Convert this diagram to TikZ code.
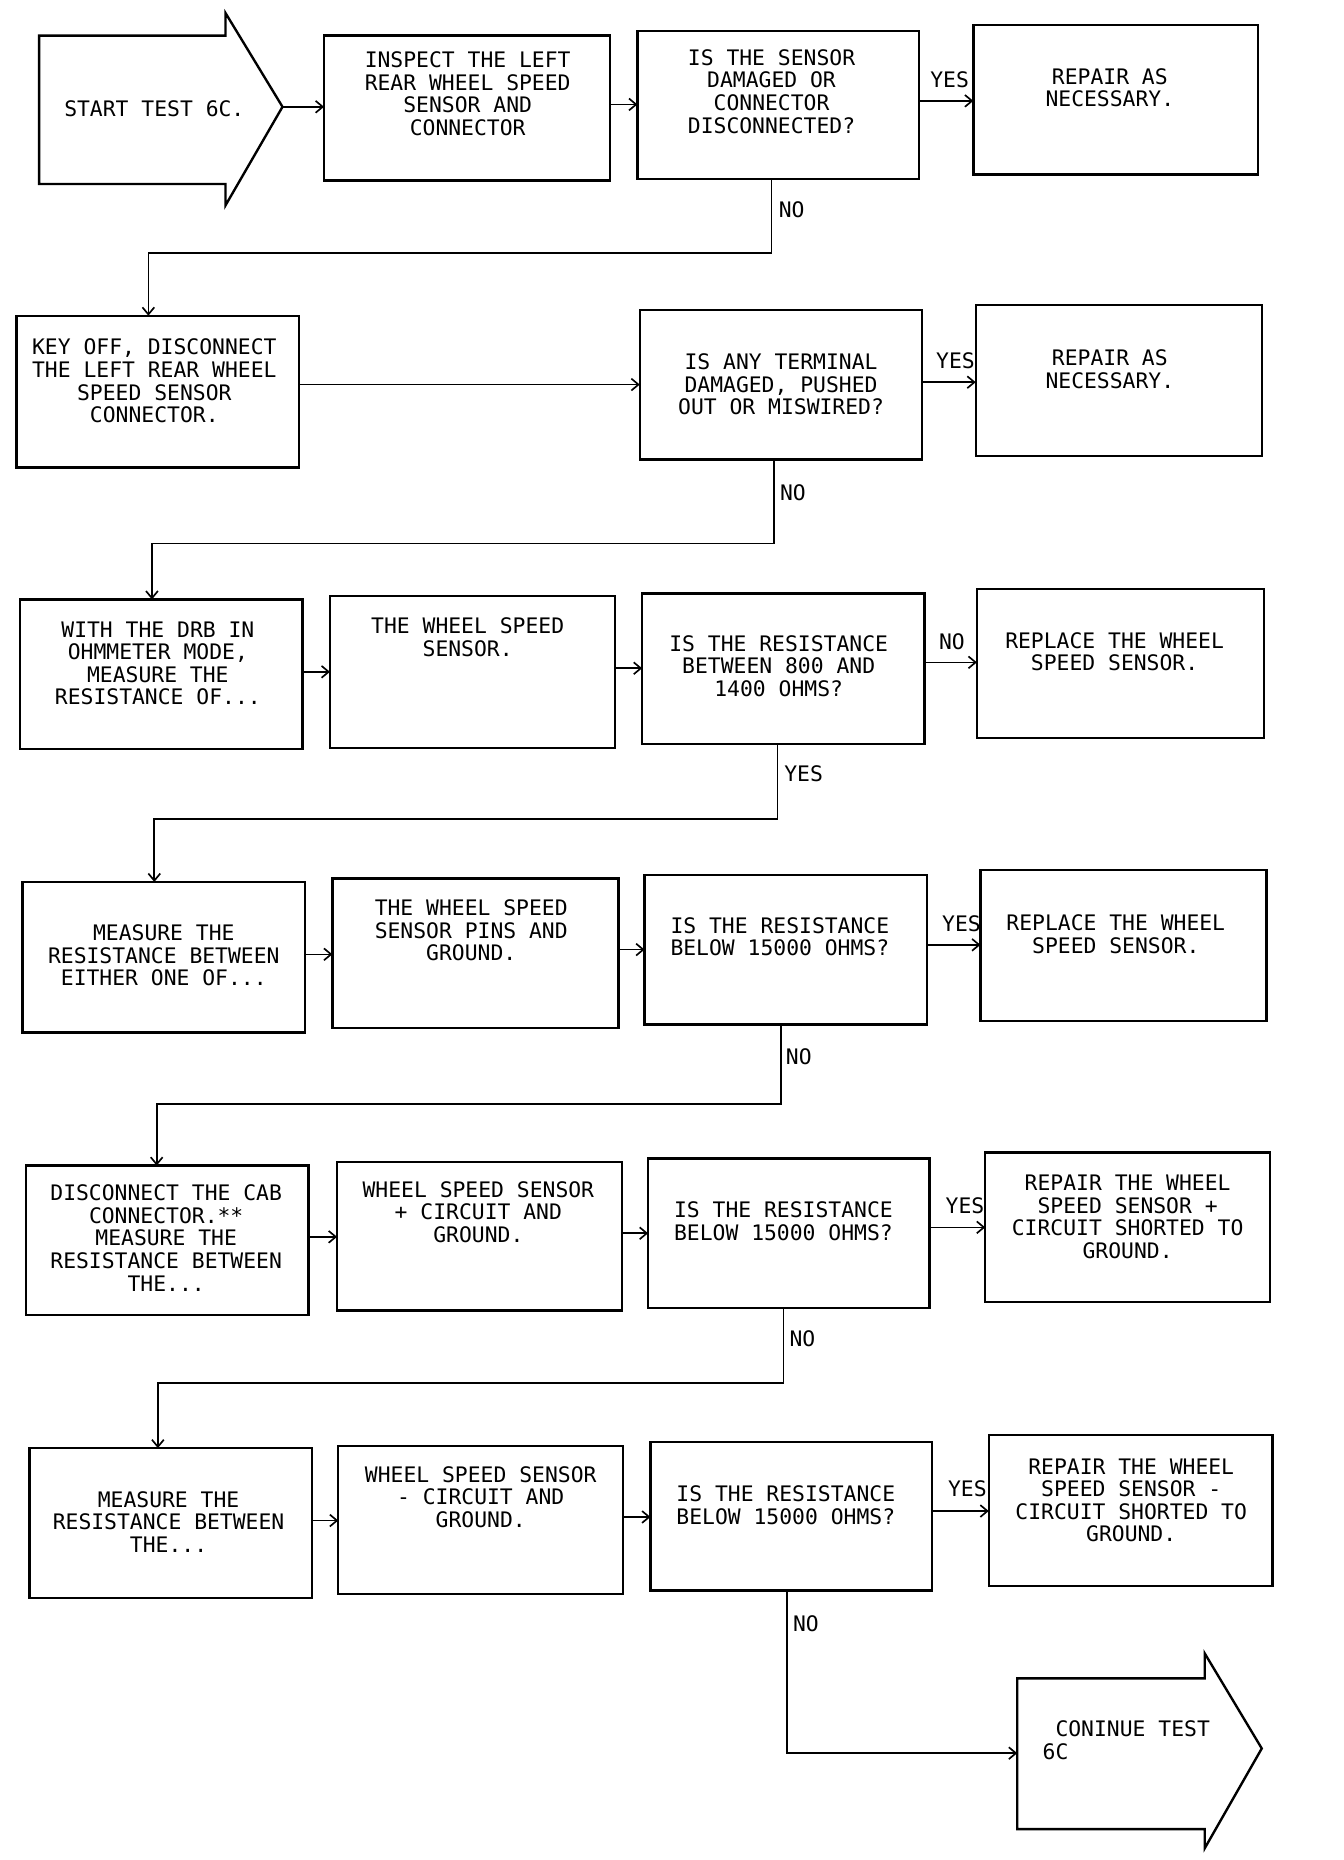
\documentclass[tikz,border=0pt]{standalone}
\usepackage{fontspec}
\newfontfamily\plotfont{DejaVu Sans Mono}
\usetikzlibrary{arrows.meta,fit}
\tikzset{
  box/.style={draw, line width=1pt, inner sep=0pt, outer sep=0pt},
  txt/.style={align=center, inner sep=0pt, font=\plotfont\fontsize{9}{9.5}\selectfont},
  lbl/.style={inner sep=0pt, font=\plotfont\fontsize{9}{9.5}\selectfont},
  arr/.style={line width=0.7pt, -{Straight Barb[length=3pt,width=5pt]}},
  bigarrow/.style={draw, line width=1pt, line join=miter}
}
\newcommand{\mybox}[5]{\node[box, fit={(#2,#3) (#4,#5)}] (#1) {};}
\begin{document}
\begin{tikzpicture}[x=0.5pt,y=-0.5pt]
\useasboundingbox (0,0) rectangle (1132,1567);
% start arrow
\draw[bigarrow] (33,30) -- (190,30) -- (190,11) -- (238,90) -- (190,173) -- (190,155) -- (33,155) -- cycle;
\coordinate (starttip) at (238,90);
\node[txt] (starttxt) at (130,92) {START TEST 6C.};
% row 1
\mybox{b1}{273}{30}{514}{152}
\node[txt] at (394,79) {INSPECT THE LEFT\\REAR WHEEL SPEED\\SENSOR AND\\CONNECTOR};
\mybox{q1}{537}{26}{774}{151}
\node[txt] at (650,77) {IS THE SENSOR\\DAMAGED OR\\CONNECTOR\\DISCONNECTED?};
\mybox{r1}{820}{21}{1060}{147}
\node[txt] at (935,74) {REPAIR AS\\NECESSARY.};
% row 2
\mybox{b2}{14}{266}{252}{394}
\node[txt] at (130,321) {KEY OFF, DISCONNECT\\THE LEFT REAR WHEEL\\SPEED SENSOR\\CONNECTOR.};
\mybox{q2}{539}{261}{777}{387}
\node[txt] at (658,324) {IS ANY TERMINAL\\DAMAGED, PUSHED\\OUT OR MISWIRED?};
\mybox{r2}{822}{257}{1063}{384}
\node[txt] at (935,311) {REPAIR AS\\NECESSARY.};
% row 3
\mybox{b3}{17}{505}{255}{631}
\node[txt] at (133,559) {WITH THE DRB IN\\OHMMETER MODE,\\MEASURE THE\\RESISTANCE OF...};
\mybox{b4}{278}{502}{518}{630}
\node[txt] at (394,537) {THE WHEEL SPEED\\SENSOR.};
\mybox{q3}{541}{500}{779}{627}
\node[txt] at (656,561) {IS THE RESISTANCE\\BETWEEN 800 AND\\1400 OHMS?};
\mybox{r3}{823}{496}{1065}{622}
\node[txt] at (939,549) {REPLACE THE WHEEL\\SPEED SENSOR.};
% row 4
\mybox{b5}{19}{743}{257}{870}
\node[txt] at (138,805) {MEASURE THE\\RESISTANCE BETWEEN\\EITHER ONE OF...};
\mybox{b6}{280}{740}{521}{866}
\node[txt] at (397,784) {THE WHEEL SPEED\\SENSOR PINS AND\\GROUND.};
\mybox{q4}{543}{737}{781}{863}
\node[txt] at (657,789) {IS THE RESISTANCE\\BELOW 15000 OHMS?};
\mybox{r4}{826}{733}{1067}{860}
\node[txt] at (940,787) {REPLACE THE WHEEL\\SPEED SENSOR.};
% row 5
\mybox{b7}{22}{982}{260}{1108}
\node[txt] at (140,1043) {DISCONNECT THE CAB\\CONNECTOR.**\\MEASURE THE\\RESISTANCE BETWEEN\\THE...};
\mybox{b8}{284}{979}{524}{1104}
\node[txt] at (403,1021) {WHEEL SPEED SENSOR\\+ CIRCUIT AND\\GROUND.};
\mybox{q5}{546}{976}{783}{1102}
\node[txt] at (660,1029) {IS THE RESISTANCE\\BELOW 15000 OHMS?};
\mybox{r5}{830}{971}{1070}{1097}
\node[txt] at (950,1025) {REPAIR THE WHEEL\\SPEED SENSOR +\\CIRCUIT SHORTED TO\\GROUND.};
% row 6
\mybox{b9}{25}{1220}{263}{1346}
\node[txt] at (142,1282) {MEASURE THE\\RESISTANCE BETWEEN\\THE...};
\mybox{b10}{285}{1218}{525}{1343}
\node[txt] at (405,1261) {WHEEL SPEED SENSOR\\- CIRCUIT AND\\GROUND.};
\mybox{q6}{548}{1215}{785}{1340}
\node[txt] at (662,1268) {IS THE RESISTANCE\\BELOW 15000 OHMS?};
\mybox{r6}{833}{1209}{1072}{1336}
\node[txt] at (953,1264) {REPAIR THE WHEEL\\SPEED SENSOR -\\CIRCUIT SHORTED TO\\GROUND.};
% end arrow
\draw[bigarrow] (857,1414) -- (1015,1414) -- (1015,1393) -- (1063,1473) -- (1015,1557) -- (1015,1541) -- (857,1541) -- cycle;
\coordinate (endleft) at (857,1477);
\node[txt, align=left, anchor=west] (endtxt) at (878,1466) {\hphantom{X}CONINUE TEST\\6C};
% connectors row 1
\draw[arr] (starttip) -- (b1.west |- starttip);
\draw[arr] (b1.east |- 0,88) -- (q1.west |- 0,88);
\draw[arr] (q1.east |- 0,85) -- (r1.west |- 0,85);
\node[lbl] at (800,67) {YES};
\draw[arr] (q1.south -| 650,0) -- (650,213) -- (125,213) -- (b2.north -| 125,0);
\node[lbl] at (667,177) {NO};
% row 2
\draw[arr] (b2.east |- 0,324) -- (q2.west |- 0,324);
\draw[arr] (q2.east |- 0,322) -- (r2.west |- 0,322);
\node[lbl] at (805,304) {YES};
\draw[arr] (q2.south -| 652,0) -- (652,458) -- (128,458) -- (b3.north -| 128,0);
\node[lbl] at (668,415) {NO};
% row 3
\draw[arr] (b3.east |- 0,566) -- (b4.west |- 0,566);
\draw[arr] (b4.east |- 0,563) -- (q3.west |- 0,563);
\draw[arr] (q3.east |- 0,558) -- (r3.west |- 0,558);
\node[lbl] at (802,541) {NO};
\draw[arr] (q3.south -| 655,0) -- (655,690) -- (130,690) -- (b5.north -| 130,0);
\node[lbl] at (677,652) {YES};
% row 4
\draw[arr] (b5.east |- 0,804) -- (b6.west |- 0,804);
\draw[arr] (b6.east |- 0,800) -- (q4.west |- 0,800);
\draw[arr] (q4.east |- 0,796) -- (r4.west |- 0,796);
\node[lbl] at (810,778) {YES};
\draw[arr] (q4.south -| 658,0) -- (658,930) -- (132,930) -- (b7.north -| 132,0);
\node[lbl] at (673,890) {NO};
% row 5
\draw[arr] (b7.east |- 0,1042) -- (b8.west |- 0,1042);
\draw[arr] (b8.east |- 0,1039) -- (q5.west |- 0,1039);
\draw[arr] (q5.east |- 0,1034) -- (r5.west |- 0,1034);
\node[lbl] at (813,1016) {YES};
\draw[arr] (q5.south -| 660,0) -- (660,1165) -- (133,1165) -- (b9.north -| 133,0);
\node[lbl] at (676,1128) {NO};
% row 6
\draw[arr] (b9.east |- 0,1281) -- (b10.west |- 0,1281);
\draw[arr] (b10.east |- 0,1278) -- (q6.west |- 0,1278);
\draw[arr] (q6.east |- 0,1273) -- (r6.west |- 0,1273);
\node[lbl] at (815,1254) {YES};
\draw[arr] (q6.south -| 663,0) -- (663,1477) -- (endleft);
\node[lbl] at (679,1368) {NO};
\end{tikzpicture}
\end{document}
